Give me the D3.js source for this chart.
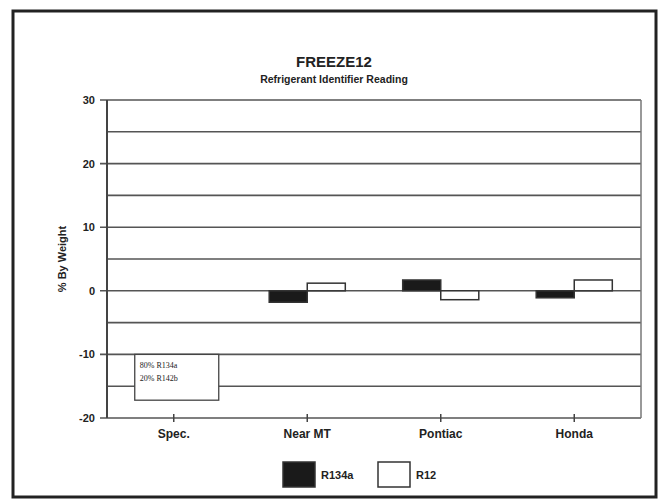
<!DOCTYPE html>
<html>
<head>
<meta charset="utf-8">
<title>FREEZE12</title>
<script src="https://d3js.org/d3.v7.min.js"></script>
<style>
  body { margin: 0; background: #fff; }
  text { font-family: "Liberation Sans", Arial, sans-serif; fill: #222; }
</style>
</head>
<body>
<div id="chart"></div>
<script>
// chart values
var categories = ["Spec.", "Near MT", "Pontiac", "Honda"];
var seriesNames = ["R134a", "R12"];
var r134a = [null, -1.8, 1.7, -1.1];
var r12 = [null, 1.2, -1.4, 1.7];
var yTicks = [-20, -10, 0, 10, 20, 30];
var gridValues = [-15, -5, 5, 15, 25];
var specLines = ["80% R134a", "20% R142b"];

var W = 665, H = 500;
var margin = {top: 100, right: 24, bottom: 82, left: 107};
var width = W - margin.left - margin.right,
    height = H - margin.top - margin.bottom;

var svg = d3.select("#chart").append("svg")
    .attr("width", W).attr("height", H);

// outer frame
svg.append("rect")
    .attr("x", 13).attr("y", 11)
    .attr("width", 643).attr("height", 486)
    .attr("fill", "none").attr("stroke", "#222").attr("stroke-width", 3);

// titles
svg.append("text").attr("x", 334).attr("y", 67)
    .attr("text-anchor", "middle").style("font-size", "15px").style("font-weight", "bold")
    .text("FREEZE12");
svg.append("text").attr("x", 334).attr("y", 83)
    .attr("text-anchor", "middle").style("font-size", "10.5px").style("font-weight", "bold")
    .text("Refrigerant Identifier Reading");

var g = svg.append("g")
    .attr("transform", "translate(" + margin.left + "," + margin.top + ")");

var x = d3.scaleBand().domain(categories).range([0, width]).paddingInner(0).paddingOuter(0);
var y = d3.scaleLinear().domain([-20, 30]).range([height, 0]);
var xs = d3.scaleBand().domain(seriesNames).range([x.bandwidth() * 0.215, x.bandwidth() * 0.785]);

// gridlines
g.selectAll(".minor").data(gridValues).enter().append("line")
    .attr("x1", 0).attr("x2", width)
    .attr("y1", function(d) { return y(d); }).attr("y2", function(d) { return y(d); })
    .attr("stroke", "#555").attr("stroke-width", 1.6);
g.selectAll(".major").data(yTicks).enter().append("line")
    .attr("x1", -7).attr("x2", width)
    .attr("y1", function(d) { return y(d); }).attr("y2", function(d) { return y(d); })
    .attr("stroke", "#555").attr("stroke-width", 1.6);

// plot frame sides
g.append("line").attr("x1", 0).attr("x2", 0).attr("y1", 0).attr("y2", height)
    .attr("stroke", "#444").attr("stroke-width", 2);
g.append("line").attr("x1", width).attr("x2", width).attr("y1", 0).attr("y2", height)
    .attr("stroke", "#777").attr("stroke-width", 1.5);

// y axis labels
g.selectAll(".ylab").data(yTicks).enter().append("text")
    .attr("x", -12).attr("y", function(d) { return y(d) + 4; })
    .attr("text-anchor", "end").style("font-size", "11px").style("font-weight", "bold")
    .text(function(d) { return d; });

svg.append("text")
    .attr("transform", "translate(66," + (margin.top + y(5)) + ") rotate(-90)")
    .attr("text-anchor", "middle").style("font-size", "11px").style("font-weight", "bold")
    .text("% By Weight");

// x axis ticks and labels
g.selectAll(".xtick").data(categories).enter().append("line")
    .attr("x1", function(d) { return x(d) + x.bandwidth() / 2; })
    .attr("x2", function(d) { return x(d) + x.bandwidth() / 2; })
    .attr("y1", height - 4).attr("y2", height + 4)
    .attr("stroke", "#444").attr("stroke-width", 1.5);
g.selectAll(".xlab").data(categories).enter().append("text")
    .attr("x", function(d) { return x(d) + x.bandwidth() / 2; })
    .attr("y", height + 20)
    .attr("text-anchor", "middle").style("font-size", "12px").style("font-weight", "bold")
    .text(function(d) { return d; });

// bars
var rows = categories.map(function(c, i) {
  return {cat: c, values: [{s: "R134a", v: r134a[i]}, {s: "R12", v: r12[i]}]};
});
var fills = {"R134a": "#1a1a1a", "R12": "#fff"};
var grp = g.selectAll(".grp").data(rows).enter().append("g")
    .attr("transform", function(d) { return "translate(" + x(d.cat) + ",0)"; });
grp.selectAll("rect").data(function(d) { return d.values.filter(function(e) { return e.v !== null; }); })
  .enter().append("rect")
    .attr("x", function(d) { return xs(d.s); })
    .attr("width", xs.bandwidth())
    .attr("y", function(d) { return y(Math.max(0, d.v)); })
    .attr("height", function(d) { return Math.abs(y(d.v) - y(0)); })
    .attr("fill", function(d) { return fills[d.s]; })
    .attr("stroke", "#333").attr("stroke-width", 1.5);

// spec annotation box
var bx0 = x("Spec.") + x.bandwidth() / 2 - 39;
g.append("rect")
    .attr("x", bx0).attr("y", y(-10))
    .attr("width", 84).attr("height", y(-17.2) - y(-10))
    .attr("fill", "#fff").attr("stroke", "#444").attr("stroke-width", 1.3);
g.selectAll(".spec").data(specLines).enter().append("text")
    .attr("x", bx0 + 5)
    .attr("y", function(d, i) { return y(-10) + 14 + i * 13; })
    .style("font-family", "'Liberation Serif', 'Times New Roman', serif")
    .style("font-size", "8px")
    .text(function(d) { return d; });

// legend
var legend = svg.append("g").attr("transform", "translate(283,462)");
var lx = [0, 95];
seriesNames.forEach(function(s, i) {
  legend.append("rect").attr("x", lx[i]).attr("y", 0).attr("width", 32).attr("height", 25)
      .attr("fill", fills[s]).attr("stroke", "#333").attr("stroke-width", 1.5);
  legend.append("text").attr("x", lx[i] + 38).attr("y", 17)
      .style("font-size", "11px").style("font-weight", "bold").text(s);
});
</script>
</body>
</html>
